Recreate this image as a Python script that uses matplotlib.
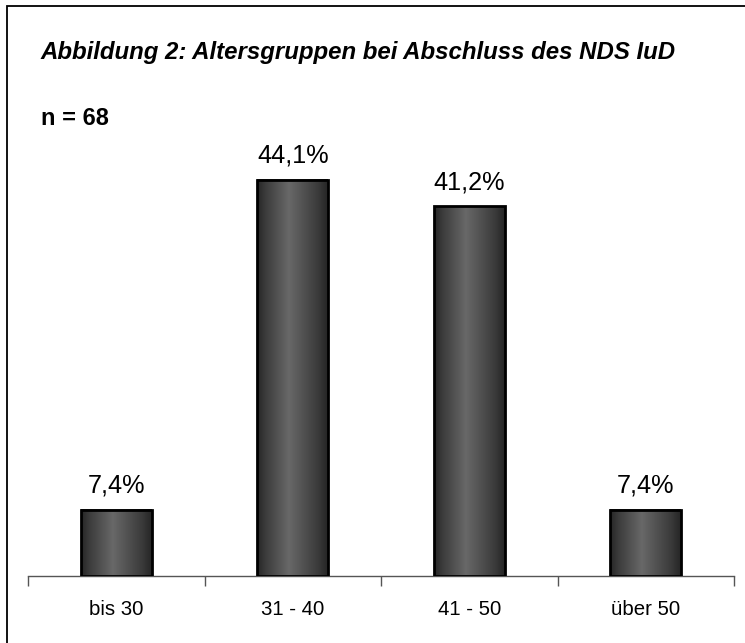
import numpy as np
import matplotlib
matplotlib.use("Agg")
import matplotlib.pyplot as plt
from matplotlib.colors import LinearSegmentedColormap
from matplotlib.patches import Rectangle

plt.rcParams['font.family'] = ['Liberation Sans', 'DejaVu Sans']

# data
categories = ['bis 30', '31 - 40', '41 - 50', 'über 50']
shares = [7.4, 44.1, 41.2, 7.4]
value_labels = ['7,4%', '44,1%', '41,2%', '7,4%']
title = 'Abbildung 2: Altersgruppen bei Abschluss des NDS IuD'
n_label = 'n = 68'

W, H = 745, 643
fig = plt.figure(figsize=(W / 100, H / 100), dpi=100)

# outer frame (left + top visible)
fig.patches.append(Rectangle((7 / W, -0.1), 2.0, 1 - 6 / H + 0.1, transform=fig.transFigure,
                             fill=False, edgecolor='black', linewidth=1.3))

ax_left, ax_right = 28, 734
ax_bottom, ax_top = 576, 100
ax = fig.add_axes([ax_left / W, (H - ax_bottom) / H, (ax_right - ax_left) / W, (ax_bottom - ax_top) / H])
ymax = (ax_bottom - ax_top) / 8.98

grad = LinearSegmentedColormap.from_list('bar', [(0, '#262626'), (0.12, '#3c3c3c'), (0.45, '#686868'),
                                                 (0.85, '#3c3c3c'), (1, '#262626')])
g = np.linspace(0, 1, 200).reshape(1, -1)
bw = 0.40
x = np.arange(len(categories))
for xi, v, lab in zip(x, shares, value_labels):
    ax.imshow(g, cmap=grad, extent=(xi - bw / 2, xi + bw / 2, 0, v), aspect='auto', zorder=2)
    ax.annotate(lab, (xi, v), xytext=(0, 17), textcoords='offset pixels',
                ha='center', va='baseline', fontsize=18.2)
ax.bar(x, shares, width=bw, fill=False, edgecolor='black', linewidth=2, zorder=3)
ax.set_xlim(-0.5, len(categories) - 0.5)
ax.set_ylim(0, ymax)

for s in ['top', 'right', 'left']:
    ax.spines[s].set_visible(False)
ax.spines['bottom'].set_color('#555555')
ax.spines['bottom'].set_linewidth(1)
ax.set_yticks([])
ax.set_xticks(np.arange(len(categories) + 1) - 0.5)
ax.set_xticklabels([])
ax.tick_params(axis='x', which='major', length=7, width=1, color='#555555', direction='out')
ax.set_xticks(x, minor=True)
ax.set_xticklabels(categories, minor=True, fontsize=14.7)
ax.tick_params(axis='x', which='minor', length=0, pad=17)

fig.text(40 / W, 1 - 59 / H, title, fontsize=17.3, fontweight='bold', fontstyle='italic', va='baseline')
fig.text(41 / W, 1 - 125 / H, n_label, fontsize=17, fontweight='bold', va='baseline')

fig.savefig('out.png', dpi=100)
